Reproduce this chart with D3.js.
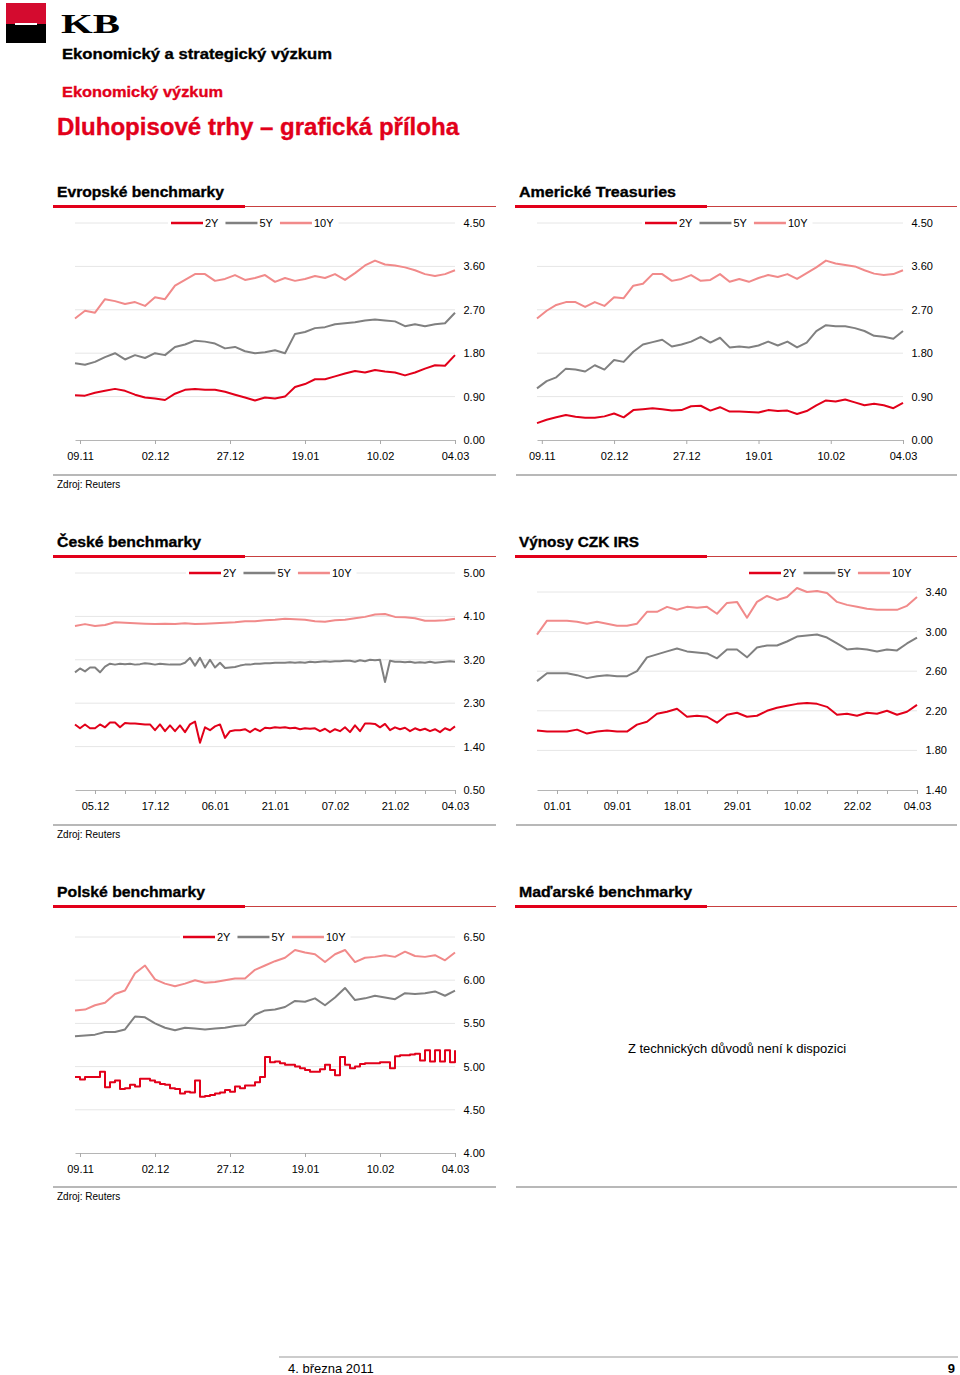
<!DOCTYPE html>
<html>
<head>
<meta charset="utf-8">
<script src="https://cdn.jsdelivr.net/npm/d3@7"></script>
<style>
  body { margin: 0; background: #fff; }
  text { font-family: "Liberation Sans", Arial, sans-serif; }
</style>
</head>
<body>
<div id="page"></div>
<script>
// series names + colours
const seriesNames = ["2Y", "5Y", "10Y"];
const seriesColors = ["#e2001a", "#808080", "#f18a8a"];

// x tick labels
const datesLong = ["09.11", "02.12", "27.12", "19.01", "10.02", "04.03"];
const datesCz = ["05.12", "17.12", "06.01", "21.01", "07.02", "21.02", "04.03"];
const datesIrs = ["01.01", "09.01", "18.01", "29.01", "10.02", "22.02", "04.03"];
const posLong = [0.5, 8, 15.5, 23, 30.5, 38];
const posShort = [2, 8, 14, 20, 26, 32, 38];
const posMinor = [5, 11, 17, 23, 29, 35];

// y ticks
const euTicks = [0, 0.9, 1.8, 2.7, 3.6, 4.5];
const czTicks = [0.5, 1.4, 2.3, 3.2, 4.1, 5.0];
const irsTicks = [1.4, 1.8, 2.2, 2.6, 3.0, 3.4];
const plTicks = [4.0, 4.5, 5.0, 5.5, 6.0, 6.5];

// Evropske benchmarky
const eu2y = [0.93,0.92,0.98,1.02,1.06,1.02,0.94,0.88,0.86,0.83,0.96,1.04,1.06,1.04,1.04,1.00,0.94,0.88,0.82,0.88,
  0.86,0.90,1.10,1.16,1.26,1.26,1.32,1.38,1.43,1.40,1.45,1.42,1.40,1.34,1.40,1.48,1.55,1.54,1.76];
const eu5y = [1.59,1.56,1.62,1.72,1.80,1.67,1.76,1.70,1.80,1.76,1.93,1.98,2.06,2.04,2.00,1.90,1.93,1.84,1.80,1.82,
  1.86,1.80,2.20,2.24,2.32,2.34,2.40,2.42,2.44,2.48,2.50,2.48,2.46,2.36,2.40,2.36,2.40,2.42,2.64];
const eu10y = [2.52,2.68,2.64,2.92,2.88,2.82,2.86,2.78,2.96,2.92,3.20,3.32,3.44,3.44,3.30,3.34,3.42,3.32,3.36,3.42,
  3.28,3.36,3.30,3.34,3.40,3.36,3.44,3.32,3.46,3.62,3.72,3.64,3.62,3.58,3.52,3.44,3.40,3.44,3.52];

// Americke Treasuries
const us2y = [0.35,0.42,0.47,0.52,0.48,0.46,0.46,0.49,0.55,0.47,0.62,0.64,0.66,0.64,0.61,0.62,0.70,0.71,0.61,0.68,
  0.59,0.59,0.58,0.57,0.62,0.60,0.61,0.54,0.60,0.72,0.82,0.80,0.84,0.78,0.72,0.75,0.72,0.66,0.77];
const us5y = [1.07,1.22,1.30,1.48,1.46,1.42,1.55,1.46,1.66,1.62,1.83,1.98,2.03,2.08,1.94,1.98,2.04,2.14,2.02,2.12,
  1.92,1.94,1.92,1.96,2.04,1.96,2.04,1.92,2.02,2.26,2.38,2.36,2.36,2.32,2.26,2.16,2.14,2.10,2.26];
const us10y = [2.52,2.68,2.80,2.86,2.86,2.76,2.86,2.78,2.96,2.94,3.20,3.24,3.44,3.44,3.30,3.34,3.42,3.30,3.32,3.44,
  3.28,3.34,3.28,3.36,3.42,3.38,3.44,3.34,3.46,3.58,3.72,3.66,3.63,3.60,3.52,3.45,3.42,3.44,3.52];

// Ceske benchmarky (2Y, 5Y read at twice the density: they are very spiky)
const cz2y = [1.86,1.78,1.86,1.78,1.78,1.86,1.80,1.90,1.90,1.80,1.89,1.88,1.88,1.87,1.86,1.86,1.74,1.86,1.72,1.84,
  1.72,1.84,1.70,1.86,1.92,1.48,1.80,1.74,1.82,1.86,1.58,1.72,1.74,1.74,1.76,1.70,1.77,1.72,1.79,1.78,
  1.80,1.79,1.80,1.78,1.79,1.76,1.78,1.77,1.78,1.72,1.77,1.70,1.76,1.72,1.80,1.70,1.84,1.72,1.88,1.88,
  1.87,1.80,1.87,1.74,1.80,1.76,1.79,1.72,1.78,1.74,1.77,1.72,1.76,1.70,1.78,1.74,1.82];
const cz5y = [2.94,3.02,2.96,3.04,3.04,2.94,3.06,3.12,3.10,3.12,3.11,3.12,3.10,3.11,3.13,3.12,3.10,3.12,3.11,3.10,
  3.10,3.10,3.14,3.24,3.08,3.24,3.04,3.20,3.04,3.14,3.03,3.04,3.05,3.08,3.10,3.10,3.12,3.12,3.13,3.13,
  3.14,3.14,3.14,3.15,3.14,3.15,3.14,3.16,3.15,3.16,3.17,3.16,3.17,3.17,3.18,3.18,3.16,3.19,3.17,3.20,
  3.19,3.20,2.74,3.18,3.16,3.16,3.15,3.16,3.14,3.15,3.14,3.16,3.14,3.15,3.16,3.17,3.16];
const cz10y = [3.90,3.94,3.90,3.92,3.98,3.97,3.96,3.95,3.94,3.95,3.94,3.96,3.94,3.95,3.96,3.97,3.98,4.00,4.00,4.02,
  4.03,4.05,4.04,4.03,4.00,3.99,4.02,4.03,4.06,4.09,4.14,4.15,4.09,4.08,4.06,4.01,4.01,4.02,4.05];

// Vynosy CZK IRS
const irs2y = [2.00,1.99,1.99,1.99,2.01,1.97,1.99,2.00,1.99,1.99,2.06,2.09,2.17,2.19,2.22,2.14,2.15,2.14,2.08,2.16,
  2.18,2.14,2.15,2.20,2.23,2.25,2.27,2.28,2.27,2.24,2.16,2.17,2.15,2.18,2.17,2.20,2.16,2.19,2.26];
const irs5y = [2.50,2.58,2.58,2.58,2.56,2.53,2.55,2.56,2.55,2.55,2.60,2.74,2.77,2.80,2.83,2.80,2.79,2.78,2.73,2.82,
  2.82,2.74,2.84,2.86,2.86,2.90,2.95,2.96,2.97,2.94,2.88,2.82,2.83,2.82,2.80,2.82,2.81,2.88,2.94];
const irs10y = [2.97,3.11,3.11,3.11,3.10,3.08,3.10,3.08,3.06,3.06,3.08,3.20,3.20,3.25,3.22,3.25,3.24,3.25,3.18,3.29,
  3.30,3.14,3.30,3.36,3.32,3.35,3.44,3.40,3.41,3.39,3.30,3.27,3.25,3.23,3.22,3.22,3.22,3.26,3.35];

// Polske benchmarky (2Y at twice the density)
const pl2y = [4.88,4.85,4.88,4.88,4.88,4.94,4.76,4.82,4.84,4.74,4.75,4.79,4.77,4.86,4.86,4.84,4.82,4.80,4.79,4.75,
  4.74,4.69,4.71,4.70,4.84,4.65,4.66,4.67,4.69,4.70,4.73,4.71,4.77,4.75,4.78,4.78,4.82,4.88,5.11,5.05,
  5.06,5.04,5.02,5.02,5.00,4.98,4.96,4.94,4.94,4.97,5.02,4.96,4.90,5.11,5.02,4.98,5.00,5.03,5.04,5.04,
  5.04,5.05,5.05,4.98,5.12,5.13,5.13,5.14,5.15,5.07,5.19,5.06,5.19,5.06,5.19,5.05,5.19];
const pl5y = [5.35,5.36,5.37,5.40,5.40,5.43,5.58,5.57,5.50,5.45,5.42,5.45,5.44,5.43,5.44,5.45,5.47,5.48,5.60,5.65,
  5.66,5.69,5.76,5.75,5.79,5.71,5.80,5.91,5.77,5.79,5.82,5.80,5.78,5.85,5.84,5.85,5.87,5.82,5.88];
const pl10y = [5.65,5.66,5.71,5.74,5.84,5.88,6.08,6.17,6.01,5.96,5.93,5.96,6.00,5.97,5.98,6.00,6.02,6.02,6.12,6.17,
  6.22,6.26,6.35,6.32,6.30,6.21,6.30,6.35,6.21,6.26,6.27,6.29,6.27,6.33,6.28,6.27,6.29,6.23,6.32];

const red = "#e2001a";

const svg = d3.select("#page").append("svg")
    .attr("width", 960)
    .attr("height", 1375);

// heavy text: bold plus a thin outline, stretched to the width seen in the reference
function heavy(x, y, str, size, width, color) {
    return svg.append("text").attr("x", x).attr("y", y).text(str)
        .style("font-size", size + "px").style("font-weight", "bold")
        .attr("fill", color).attr("stroke", color).attr("stroke-width", 0.35)
        .attr("textLength", width).attr("lengthAdjust", "spacingAndGlyphs");
}

// header / logo
svg.append("rect").attr("x", 6).attr("y", 3).attr("width", 40).attr("height", 21).attr("fill", "#d40b2f");
svg.append("rect").attr("x", 6).attr("y", 24).attr("width", 40).attr("height", 19).attr("fill", "#000");
svg.append("rect").attr("x", 15).attr("y", 23).attr("width", 22).attr("height", 2).attr("fill", "#fff");
svg.append("text").attr("x", 61).attr("y", 33).text("KB")
    .style("font-family", "'Liberation Serif', serif").style("font-size", "27px").style("font-weight", "bold")
    .attr("textLength", 59).attr("lengthAdjust", "spacingAndGlyphs");

heavy(62, 59, "Ekonomický a strategický výzkum", 15, 270, "#000");
heavy(62, 97, "Ekonomický výzkum", 15, 161, red);
heavy(57, 135, "Dluhopisové trhy – grafická příloha", 23, 402, red);

// panel headers
function panelHead(x0, x1, y, title, width) {
    heavy(x0 + 4, y, title, 15, width, "#000");
    svg.append("line").attr("x1", x0).attr("x2", x1).attr("y1", y + 9.5).attr("y2", y + 9.5)
        .attr("stroke", "#c84040").attr("stroke-width", 1);
    svg.append("rect").attr("x", x0).attr("y", y + 8).attr("width", 192).attr("height", 3).attr("fill", red);
}

function panelFoot(x0, x1, y, source) {
    svg.append("line").attr("x1", x0).attr("x2", x1).attr("y1", y).attr("y2", y)
        .attr("stroke", "#a0a0a0").attr("stroke-width", 1.5);
    if (source) {
        svg.append("text").attr("x", x0 + 4).attr("y", y + 13).text(source).style("font-size", "10px");
    }
}

function legend(g, x0, y0) {
    const bg = g.append("rect").attr("fill", "#fff");
    let cx = x0;
    seriesNames.forEach((name, i) => {
        g.append("line").attr("x1", cx).attr("x2", cx + 32).attr("y1", y0).attr("y2", y0)
            .attr("stroke", seriesColors[i]).attr("stroke-width", 2.5);
        const t = g.append("text").attr("x", cx + 34).attr("y", y0 + 4).text(name).style("font-size", "11px");
        cx += 34 + t.node().getComputedTextLength() + 7;
    });
    bg.attr("x", x0 - 3).attr("y", y0 - 6).attr("width", cx - x0 + 1).attr("height", 12);
}

function drawChart(c) {
    const x = d3.scaleLinear().domain([0, 38]).range([c.left, c.right]);
    const y = d3.scaleLinear().domain(c.domain).range([c.bottom, c.top]);
    const g = svg.append("g");

    g.selectAll(".grid")
        .data(c.yTicks.slice(1))
        .enter()
        .append("line")
        .attr("x1", c.left).attr("x2", c.right)
        .attr("y1", d => y(d)).attr("y2", d => y(d))
        .attr("stroke", "#e6e6e6");

    const ya = g.append("g")
        .attr("transform", `translate(${c.right},0)`)
        .call(d3.axisRight(y).tickValues(c.yTicks).tickFormat(d3.format(".2f")).tickSize(0).tickPadding(8.5));
    ya.select(".domain").remove();
    ya.selectAll("text").style("font-size", "11px").attr("fill", "#000");

    if (c.minor) {
        const mi = g.append("g")
            .attr("transform", `translate(0,${c.bottom})`)
            .call(d3.axisBottom(x).tickValues(c.minor).tickFormat("").tickSize(4).tickSizeOuter(0));
        mi.select(".domain").remove();
        mi.selectAll("line").attr("stroke", "#aaa");
    }
    const xa = g.append("g")
        .attr("transform", `translate(0,${c.bottom})`)
        .call(d3.axisBottom(x).tickValues(c.xTicks).tickFormat((d, i) => c.xLabels[i])
            .tickSize(4).tickSizeOuter(0).tickPadding(8));
    xa.select(".domain").attr("stroke", "#b5b5b5");
    xa.selectAll("line").attr("stroke", "#aaa");
    xa.selectAll("text").style("font-size", "11px").attr("fill", "#000");

    // 10Y first, 2Y on top; a series may be sampled denser than the 39-step grid
    [2, 1, 0].forEach(k => {
        const s = c.series[k];
        const step = 38 / (s.length - 1);
        const curve = (c.curves && c.curves[k]) || d3.curveLinear;
        const line = d3.line().curve(curve)
            .x((d, i) => x(i * step)).y(d => y(d));
        g.append("path")
            .datum(s)
            .attr("d", line)
            .attr("fill", "none")
            .attr("stroke", seriesColors[k])
            .attr("stroke-width", 2)
            .attr("stroke-linejoin", "round");
    });

    legend(g, c.legendX, c.legendY);
}

// left column
panelHead(53, 496, 197, "Evropské benchmarky", 167);
drawChart({ left: 75, right: 455, top: 223, bottom: 440, domain: [0, 4.5], yTicks: euTicks,
    xTicks: posLong, xLabels: datesLong, series: [eu2y, eu5y, eu10y], legendX: 171, legendY: 223 });
panelFoot(53, 496, 475, "Zdroj: Reuters");

panelHead(53, 496, 547, "České benchmarky", 144);
drawChart({ left: 75, right: 455, top: 573, bottom: 790, domain: [0.5, 5.0], yTicks: czTicks,
    xTicks: posShort, xLabels: datesCz, minor: posMinor, series: [cz2y, cz5y, cz10y],
    legendX: 189, legendY: 573 });
panelFoot(53, 496, 825, "Zdroj: Reuters");

panelHead(53, 496, 897, "Polské benchmarky", 148);
drawChart({ left: 75, right: 455, top: 937, bottom: 1153, domain: [4.0, 6.5], yTicks: plTicks,
    xTicks: posLong, xLabels: datesLong, series: [pl2y, pl5y, pl10y],
    curves: [d3.curveStepAfter], legendX: 183, legendY: 937 });
panelFoot(53, 496, 1187, "Zdroj: Reuters");

// right column
panelHead(515, 957, 197, "Americké Treasuries", 157);
drawChart({ left: 537, right: 903, top: 223, bottom: 440, domain: [0, 4.5], yTicks: euTicks,
    xTicks: posLong, xLabels: datesLong, series: [us2y, us5y, us10y], legendX: 645, legendY: 223 });
panelFoot(516, 957, 475, null);

panelHead(515, 957, 547, "Výnosy CZK IRS", 120);
drawChart({ left: 537, right: 917, top: 592, bottom: 790, domain: [1.4, 3.4], yTicks: irsTicks,
    xTicks: posShort, xLabels: datesIrs, minor: posMinor, series: [irs2y, irs5y, irs10y],
    legendX: 749, legendY: 573 });
panelFoot(516, 957, 825, null);

panelHead(515, 957, 897, "Maďarské benchmarky", 173);
svg.append("text").attr("x", 737).attr("y", 1053).attr("text-anchor", "middle")
    .text("Z technických důvodů není k dispozici").style("font-size", "13px");
panelFoot(516, 957, 1187, null);

// page footer
svg.append("line").attr("x1", 279).attr("x2", 958).attr("y1", 1357).attr("y2", 1357)
    .attr("stroke", "#999").attr("stroke-width", 1);
svg.append("text").attr("x", 288).attr("y", 1373).text("4. března 2011").style("font-size", "13px");
svg.append("text").attr("x", 955).attr("y", 1373).attr("text-anchor", "end").text("9")
    .style("font-size", "13px").style("font-weight", "bold");
</script>
</body>
</html>
